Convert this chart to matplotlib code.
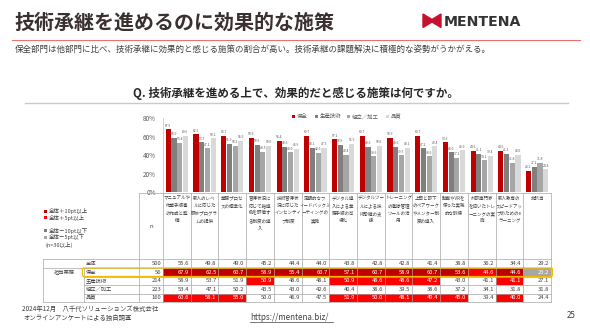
import matplotlib
matplotlib.use('Agg')
import matplotlib.pyplot as plt
from matplotlib.patches import Rectangle, Polygon, FancyBboxPatch
import numpy as np

plt.rcParams['font.family'] = ['Noto Sans CJK JP', 'DejaVu Sans']

# ---------------- data ----------------
categories = [
    "マニュアルや\n作業手順書\nの作成と整\n備",
    "新人のレベ\nルに応じた\n研修プログラ\nムの提供",
    "業務プロセ\nスの標準化",
    "習得状況に\n応じて指導\n側を評価す\nる制度の導\n入",
    "技術習得状\n況に応じた\nインセンティ\nブ制度",
    "定期的なフ\nィードバックミ\nーティングの\n実施",
    "デジタル導\n入による業\n務手順の可\n視化",
    "デジタルツー\nルによる技\n術承継の支\n援",
    "トレーニング\nの進捗管理\nツールの活\n用",
    "上司と部下\nのペアワーク\nやメンター制\n度の導入",
    "動画やVRを\n使った実践\n的な訓練",
    "外部専門家\nを招いたトレ\nーニングの実\n施",
    "新人教育の\nスピードアッ\nプのためのe\nラーニング",
    "非該当",
]
segments = ['全体', '保全', '生産技術', '組立／加工', '品質']
n_values = [500, 56, 214, 223, 160]
total = [55.6, 49.8, 49.0, 45.2, 44.4, 44.0, 43.8, 42.8, 42.8, 41.4, 38.8, 36.2, 34.4, 29.2]
hozen = [67.9, 62.5, 60.7, 58.9, 55.4, 60.7, 57.1, 60.7, 58.9, 60.7, 53.6, 44.6, 44.6, 23.2]
seisan = [58.9, 53.7, 51.9, 50.9, 48.6, 48.1, 50.9, 48.6, 48.6, 47.2, 43.0, 41.1, 41.1, 27.1]
kumitate = [53.4, 47.1, 50.2, 43.5, 43.0, 42.6, 40.4, 38.6, 39.5, 38.6, 37.2, 34.1, 31.8, 31.8]
hinshitsu = [60.6, 58.1, 55.0, 50.0, 46.9, 47.5, 51.9, 50.0, 48.1, 49.4, 45.0, 39.4, 40.0, 24.4]
series_names = ['保全', '生産技術', '組立／加工', '品質']
series_colors = ['#C00000', '#7F7F7F', '#A6A6A6', '#D9D9D9']
y_ticks = [0, 20, 40, 60, 80]
rule_labels = ['全体＋10pt以上', '全体＋5pt以上', '全体－10pt以下', '全体－5pt以下']
rule_colors = ['#C00000', '#FF0000', '#7F7F7F', '#A6A6A6']

title = '技術承継を進めるのに効果的な施策'
subtitle = '保全部門は他部門に比べ、技術承継に効果的と感じる施策の割合が高い。技術承継の課題解決に積極的な姿勢がうかがえる。'
question = 'Q. 技術承継を進める上で、効果的だと感じる施策は何ですか。'

# ---------------- figure ----------------
W, H = 590, 331
fig = plt.figure(figsize=(W / 100, H / 100), dpi=100)
fig.patch.set_facecolor('white')


def px_axes(x0, y0, x1, y1):
    return fig.add_axes([x0 / W, 1 - y1 / H, (x1 - x0) / W, (y1 - y0) / H])


col_left, col_right = 163, 551
ncol = len(categories)
cw = (col_right - col_left) / ncol
base_y, top_y = 192, 118

ax = px_axes(col_left, top_y, col_right, base_y)
ax.set_xlim(0, ncol)
ax.set_ylim(0, 80)
bw = 0.205
rows = [hozen, seisan, kumitate, hinshitsu]
for k, (vals, c) in enumerate(zip(rows, series_colors)):
    xs = np.arange(ncol) + 0.5 + (k - 1.5) * bw
    ax.bar(xs, vals, width=bw * 0.9, color=c, linewidth=0)
    for xi, v in zip(xs, vals):
        ax.text(xi, v + 1.8, f'{v:.1f}', ha='center', va='bottom', fontsize=2.4, color='#595959')
ax.set_yticks(y_ticks)
ax.set_yticklabels([f'{t}%' for t in y_ticks])
ax.tick_params(axis='y', length=0, labelsize=4.6, colors='#595959', pad=5)
ax.set_xticks([])
for s in ['top', 'right', 'bottom']:
    ax.spines[s].set_visible(False)
ax.spines['left'].set_color('#BFBFBF')
ax.spines['left'].set_linewidth(0.5)
ax.patch.set_alpha(0)

# overlay for page elements
ov = fig.add_axes([0, 0, 1, 1])
ov.set_xlim(0, W)
ov.set_ylim(H, 0)
ov.axis('off')
ov.patch.set_alpha(0)

# title
ov.text(14, 22, title, fontsize=14.4, fontweight='bold', color='#3A3030', ha='left', va='center')
ov.plot([12, 580], [39.5, 39.5], color='#E57373', lw=0.8)
ov.text(15, 49, subtitle, fontsize=6.1, color='#404040', ha='left', va='center')

# logo
ov.add_patch(Polygon([(423, 14), (432, 19.5), (441, 14), (441, 27.5), (432, 22), (423, 27.5)],
                     closed=True, color='#C8102E'))
ov.text(444, 21.5, 'MENTENA', fontsize=10.2, fontweight='bold', color='#333333', ha='left', va='center',
        family=['DejaVu Sans'])

# question
ov.text(296, 93, question, fontsize=8.3, fontweight='bold', color='#262626', ha='center', va='center')
ov.plot([25, 568], [103, 103], color='#C9C9D6', lw=1.0)

# legend (series)
leg_x = [292, 315, 347, 386]
for lx, name, c in zip(leg_x, series_names, series_colors):
    ov.add_patch(Rectangle((lx, 115), 3.4, 3.4, color=c, lw=0))
    ov.text(lx + 4.7, 116.8, name, fontsize=3.9, color='#595959', ha='left', va='center')

# rule legend
rule_y = [211.5, 218, 231, 237.5]
for ry, lab, c in zip(rule_y, rule_labels, rule_colors):
    ov.add_patch(Rectangle((44, ry - 1.6), 3.0, 3.0, color=c, lw=0))
    ov.text(48.5, ry, lab, fontsize=4.0, color='#404040', ha='left', va='center')
ov.text(45, 244.5, '(n=30以上)', fontsize=4.0, color='#404040', ha='left', va='center')

# header/table grid
grid_c = '#A6A6A6'
row_edges = [259, 268, 276.5, 285, 293.5, 302]
header_top = 193
ov.plot([139, col_right], [header_top, header_top], color=grid_c, lw=0.5)
for i in range(ncol + 1):
    x = col_left + i * cw
    ov.plot([x, x], [header_top, row_edges[-1]], color=grid_c, lw=0.5)
ov.plot([139, 139], [header_top, row_edges[-1]], color=grid_c, lw=0.5)
ov.text(151, 226, 'n', fontsize=4.3, color='#404040', ha='center', va='center')
for i, cat in enumerate(categories):
    ov.text(col_left + (i + 0.5) * cw, 195.5, cat, fontsize=3.25, color='#404040', ha='center', va='top',
            linespacing=1.65)

# horizontal table lines
ov.plot([43, col_right], [row_edges[0], row_edges[0]], color=grid_c, lw=0.5)
ov.plot([43, col_right], [row_edges[1], row_edges[1]], color=grid_c, lw=0.5)
for y in row_edges[2:-1]:
    ov.plot([84, col_right], [y, y], color=grid_c, lw=0.5)
ov.plot([43, col_right], [row_edges[-1], row_edges[-1]], color=grid_c, lw=0.5)
ov.plot([43, 43], [row_edges[0], row_edges[-1]], color=grid_c, lw=0.5)
ov.plot([84, 84], [row_edges[1], row_edges[-1]], color=grid_c, lw=0.5)
ov.text(64, (row_edges[1] + row_edges[2]) / 2, '担当業務', fontsize=3.8, color='#404040', ha='center', va='center')


def cell_color(v, t):
    d = round(v - t, 1)
    if d >= 10:
        return '#C00000'
    if d >= 5:
        return '#FF0000'
    if d <= -10:
        return '#7F7F7F'
    if d <= -5:
        return '#A6A6A6'
    return None


table_rows = [total, hozen, seisan, kumitate, hinshitsu]
for r, (seg, n, vals) in enumerate(zip(segments, n_values, table_rows)):
    y0, y1 = row_edges[r], row_edges[r + 1]
    yc = (y0 + y1) / 2
    ov.text(86, yc, seg, fontsize=3.8, color='#404040', ha='left', va='center')
    ov.text(col_left - 1.5, yc, f'{n}', fontsize=4.2, color='#404040', ha='right', va='center')
    for i, v in enumerate(vals):
        c = cell_color(v, total[i]) if r > 0 else None
        x0 = col_left + i * cw
        tc = '#404040'
        if c is not None:
            ov.add_patch(Rectangle((x0, y0), cw, y1 - y0, color=c, lw=0, zorder=1))
            tc = 'white'
        ov.text(x0 + cw - 1.8, yc, f'{v:.1f}', fontsize=4.2, color=tc, ha='right', va='center', zorder=3)

# highlight box around 保全 row
ov.add_patch(FancyBboxPatch((82.5, row_edges[1]), col_right + 1.5 - 82.5, row_edges[2] - row_edges[1],
                            boxstyle='round,pad=0,rounding_size=1.5', fill=False, ec='#F5B800', lw=0.9, zorder=4))

# footer
ov.text(22, 309, '2024年12月　八千代ソリューションズ株式会社', fontsize=4.6, color='#404040', ha='left', va='center')
ov.text(24, 317.5, 'オンラインアンケートによる独自調査', fontsize=4.6, color='#404040', ha='left', va='center')
ov.text(250, 317.5, 'https://mentena.biz/', fontsize=5.8, color='#404040', ha='left', va='center')
ov.plot([250, 333], [321.5, 321.5], color='#404040', lw=0.5)
ov.text(571, 316, '25', fontsize=5.8, color='#404040', ha='center', va='center')

fig.savefig('out.png', dpi=100)
